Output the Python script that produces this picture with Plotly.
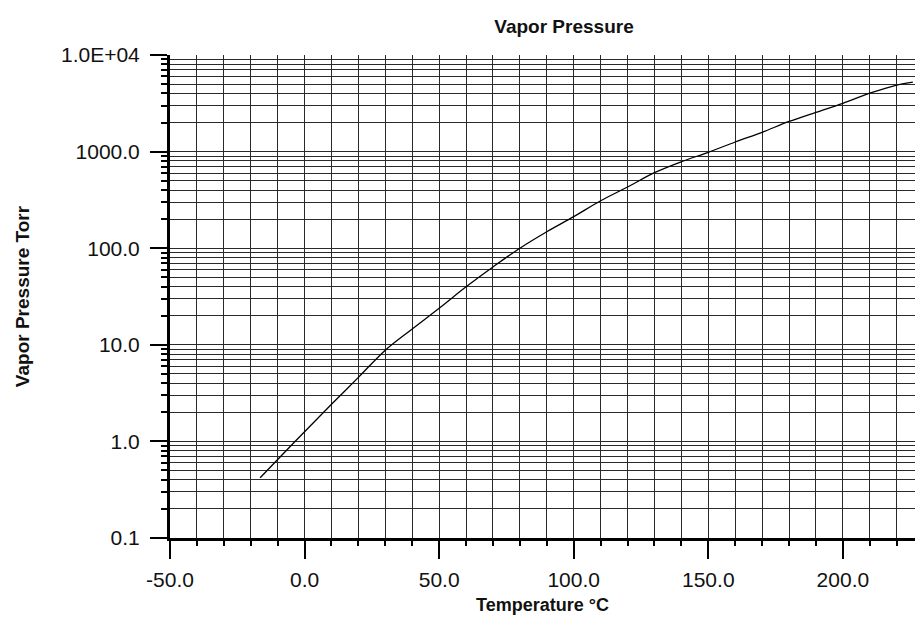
import plotly.graph_objects as go

# Data
temperature_c = [-16.5, -10, 0, 10, 20, 30, 40, 50, 60, 70, 80, 90, 100, 110,
                 120, 130, 140, 150, 160, 170, 180, 190, 200, 210, 220, 226]
pressure_torr = [0.42, 0.65, 1.26, 2.42, 4.6, 8.8, 14.6, 23.9, 39.9, 64, 100,
                 148, 212, 310, 430, 605, 786, 984, 1257, 1585, 2050, 2550,
                 3160, 4020, 4890, 5250]

x_tick_vals = [-50, 0, 50, 100, 150, 200]
x_tick_text = ["-50.0", "0.0", "50.0", "100.0", "150.0", "200.0"]
y_tick_vals = [0.1, 1, 10, 100, 1000, 10000]
y_tick_text = ["0.1", "1.0", "10.0", "100.0", "1000.0", "1.0E+04"]
y_decades = [0.1, 1, 10, 100, 1000]
y_minor_multipliers = [2, 3, 4, 5, 6, 7, 8, 9]
y_minor_vals = [d * m for d in y_decades for m in y_minor_multipliers]

FONT = "Liberation Sans, Arial, Helvetica, sans-serif"
GRID = "#2a2a2a"
TXT = "#111111"

fig = go.Figure()
fig.add_trace(go.Scatter(
    x=temperature_c, y=pressure_torr, mode="lines",
    line=dict(color="black", width=1.3, shape="spline", smoothing=1.0),
    showlegend=False, hoverinfo="x+y",
))

fig.update_layout(
    width=915, height=634,
    margin=dict(l=170, r=0, t=55, b=96, autoexpand=False),
    paper_bgcolor="white", plot_bgcolor="white",
    font=dict(family=FONT, color=TXT, size=16),
    title=dict(text="<b>Vapor Pressure</b>", x=(564 - 170) / 745, xref="paper",
               xanchor="center",
               y=1 - 26 / 634, yref="container", yanchor="middle",
               font=dict(family=FONT, size=19, color=TXT)),
)

fig.update_xaxes(
    range=[-50, 226.8], automargin=False,
    tickmode="array", tickvals=x_tick_vals, ticktext=x_tick_text,
    ticks="outside", ticklen=18, tickwidth=2, tickcolor="black",
    ticklabelstandoff=3,
    showline=True, linecolor="black", linewidth=3,
    showgrid=True, gridcolor=GRID, gridwidth=1,
    zeroline=False,
    minor=dict(dtick=10, tick0=0, ticks="outside", ticklen=5, tickwidth=1.5,
               tickcolor="black", showgrid=True, gridcolor=GRID, gridwidth=1),
    tickfont=dict(size=21, family=FONT, color=TXT),
    title=dict(text="<b>Temperature °C</b>", standoff=9,
               font=dict(size=18, family=FONT, color=TXT)),
)

fig.update_yaxes(
    type="log", range=[-1, 4], automargin=False,
    tickmode="array", tickvals=y_tick_vals, ticktext=y_tick_text,
    ticks="outside", ticklen=17, tickwidth=2, tickcolor="black",
    ticklabelstandoff=6,
    showline=True, linecolor="black", linewidth=3,
    showgrid=True, gridcolor=GRID, gridwidth=1,
    zeroline=False,
    minor=dict(tickmode="array", tickvals=y_minor_vals, ticks="outside",
               ticklen=6, tickwidth=1.5, tickcolor="black",
               showgrid=True, gridcolor=GRID, gridwidth=1),
    tickfont=dict(size=21, family=FONT, color=TXT),
    title=dict(text="<b>Vapor Pressure Torr</b>", standoff=27,
               font=dict(size=19, family=FONT, color=TXT)),
)

fig.write_html(
    "out.html",
    config={"displayModeBar": False},
    post_script="document.body.style.margin='0';"
                "document.body.style.overflow='hidden';",
)
